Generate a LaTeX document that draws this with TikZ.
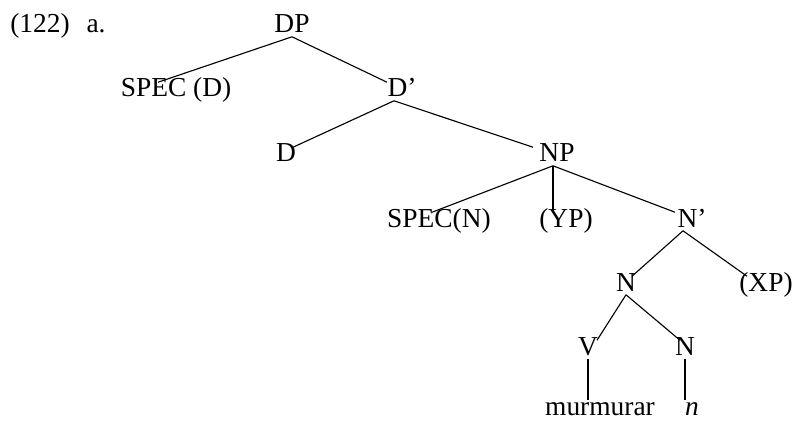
\documentclass[tikz,border=0pt]{standalone}
\usepackage{fontspec}
\setmainfont{Liberation Serif}
\tikzset{
  cat/.style={inner xsep=0pt, inner ysep=2.5pt, text height=0.78em, text depth=0pt, anchor=base},
  branch/.style={line width=0.8pt}
}
\begin{document}
\begin{tikzpicture}[font=\fontsize{19.5}{22}\selectfont]
\useasboundingbox (0,0) rectangle (19.8,10.5);
\node[anchor=base west, inner sep=0pt] (exnum) at (0.25,9.675) {(122)\hspace{12pt}a.};
\node[cat] (dp) at (7.3,9.675) {DP};
\node[cat] (specd) at (4.4,8.075) {SPEC (D)};
\node[cat] (dbar) at (10.05,8.075) {D'};
\node[cat] (d) at (7.15,6.45) {D};
\node[cat] (np) at (13.925,6.45) {NP};
\node[cat] (specn) at (10.975,4.825) {SPEC(N)};
\node[cat] (yp) at (14.15,4.825) {(YP)};
\node[cat] (nbar) at (17.3,4.825) {N'};
\node[cat] (n) at (15.65,3.225) {N};
\node[cat] (xp) at (19.15,3.225) {(XP)};
\node[cat] (v) at (14.7,1.625) {V};
\node[cat] (nn) at (17.125,1.625) {N};
\node[cat] (mur) at (15.0,0.12) {murmurar};
\node[cat] (nsuf) at (17.3,0.12) {\textit{n}};
% DP und D'
\coordinate (dbarbot) at ([xshift=-0.2cm]dbar.south);
\draw[branch] (dp.south) -- ([xshift=-0.45cm]specd.north);
\draw[branch] (dp.south) -- ([xshift=-0.375cm]dbar.north);
\draw[branch] (dbarbot) -- ([xshift=0.175cm]d.north);
\draw[branch] (dbarbot) -- ([xshift=-0.6cm]np.north);
% NP
\coordinate (npbot) at ([xshift=-0.1cm]np.south);
\draw[branch] (npbot) -- ([xshift=-0.175cm]specn.north);
\draw[branch] (npbot) -- (npbot |- yp.north);
\draw[branch] (npbot) -- ([xshift=-0.425cm]nbar.north);
% N' und N
\coordinate (nbarbot) at ([xshift=-0.225cm]nbar.south);
\draw[branch] (nbarbot) -- ([xshift=0.15cm]n.north);
\draw[branch] (nbarbot) -- ([xshift=-0.475cm]xp.north);
\draw[branch] (n.south) -- ([xshift=0.225cm]v.north);
\draw[branch] (n.south) -- ([xshift=-0.125cm]nn.north);
\draw[branch] (v.south) -- (v.south |- mur.north);
\draw[branch] (nn.south) -- (nn.south |- nsuf.north);
\end{tikzpicture}
\end{document}
